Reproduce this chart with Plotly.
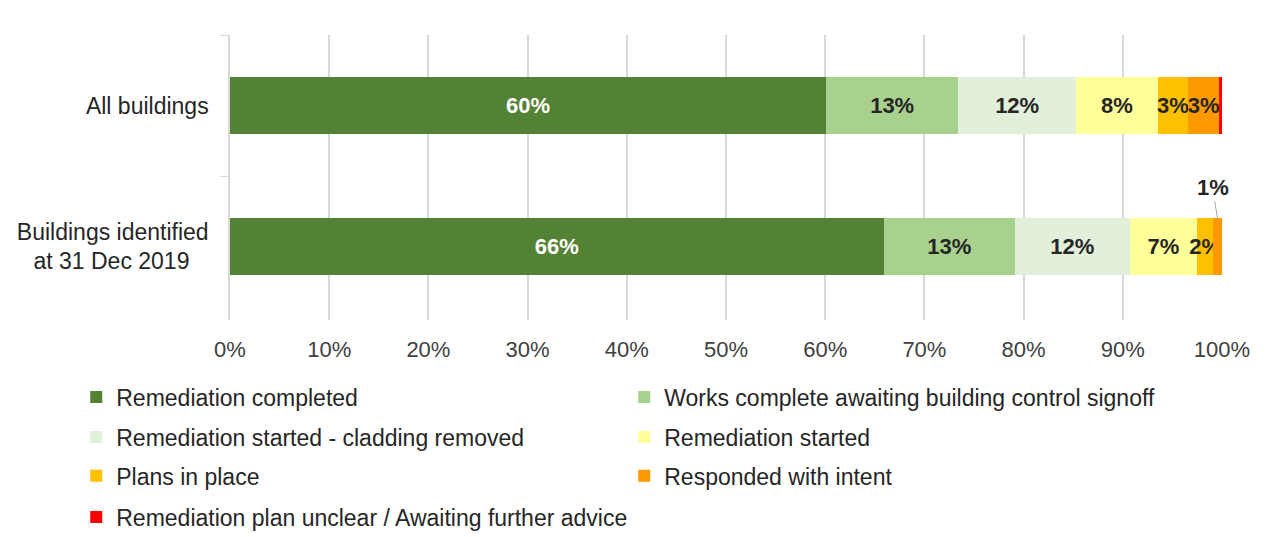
import plotly.graph_objects as go

# categories (top to bottom) and share of buildings per status, in %
CATEGORIES = ["All buildings", "Buildings identified<br>at 31 Dec 2019\u00a0\u00a0\u00a0"]

STATUSES = [
    "Remediation completed",
    "Works complete awaiting building control signoff",
    "Remediation started - cladding removed",
    "Remediation started",
    "Plans in place",
    "Responded with intent",
    "Remediation plan unclear / Awaiting further advice",
]

completed = [60.1, 65.9]
awaiting_signoff = [13.3, 13.2]
cladding_removed = [11.9, 11.6]
started = [8.2, 6.8]
plans_in_place = [3.1, 1.6]
responded = [3.1, 0.9]
unclear = [0.3, 0.0]

SERIES = [completed, awaiting_signoff, cladding_removed, started,
          plans_in_place, responded, unclear]

COLORS = ['#548235', '#A9D18E', '#E2EFDA', '#FFFF99', '#FFC000', '#FF9900', '#FF0000']
TEXT_COLORS = ['#FFFFFF'] + ['#262626'] * 6

# two legend entries per row, one plotly legend per row
LEGEND_OF = ['legend', 'legend', 'legend2', 'legend2', 'legend3', 'legend3', 'legend4']

FONT = "Liberation Sans, Arial, sans-serif"
LABEL_SIZE = 22

fig = go.Figure()

for name, vals, color, tcolor, leg in zip(STATUSES, SERIES, COLORS, TEXT_COLORS, LEGEND_OF):
    labels = [f"{round(v)}%" if v >= 1.5 else "" for v in vals]
    fig.add_trace(go.Bar(
        y=CATEGORIES,
        x=vals,
        orientation='h',
        name=name,
        marker=dict(color=color, line=dict(width=0)),
        text=labels,
        textposition='inside',
        insidetextanchor='middle',
        textangle=0,
        textfont=dict(family=FONT, size=LABEL_SIZE, color=tcolor, weight='bold'),
        legend=leg,
        hovertemplate="%{y}<br>" + name + ": %{x:.1f}%<extra></extra>",
    ))

# small slice on the second bar labelled above, with a leader line
x_small = sum(s[1] for s in SERIES[:5]) + responded[1] / 2
fig.add_annotation(
    x=x_small, y=CATEGORIES[1],
    yshift=28,
    ax=-5, ay=-31,
    text=f"<b>{round(responded[1])}%</b>",
    showarrow=True, arrowhead=0, arrowwidth=1, arrowcolor='#A6A6A6',
    font=dict(family=FONT, size=LABEL_SIZE, color='#262626'),
)

legend_rows_y = [-0.270, -0.411, -0.547, -0.691]
legend_common = dict(
    orientation='h', xanchor='left', x=-0.155, yanchor='middle',
    entrywidthmode='pixels',
    font=dict(family=FONT, size=23, color='#262626'),
    itemwidth=30, bgcolor='rgba(0,0,0,0)', traceorder='normal',
)

fig.update_layout(
    barmode='stack',
    bargap=0.6,
    width=1267, height=537,
    # page body has an 8px margin, so the plot box is shifted by that much
    margin=dict(l=222, r=53, t=27, b=225, autoexpand=False),
    paper_bgcolor='white',
    plot_bgcolor='white',
    font=dict(family=FONT, size=22, color='#404040'),
    uniformtext=dict(mode='show', minsize=LABEL_SIZE),
    showlegend=True,
    legend=dict(y=legend_rows_y[0], entrywidth=503, **legend_common),
    legend2=dict(y=legend_rows_y[1], entrywidth=503, **legend_common),
    legend3=dict(y=legend_rows_y[2], entrywidth=503, **legend_common),
    legend4=dict(y=legend_rows_y[3], entrywidth=800, **legend_common),
    xaxis=dict(
        range=[0, 100],
        dtick=10,
        ticksuffix='%',
        showgrid=True,
        gridcolor='#D9D9D9',
        gridwidth=1.5,
        zeroline=False,
        showline=False,
        ticks='',
        ticklabelstandoff=14,
        tickfont=dict(family=FONT, size=22, color='#404040'),
        fixedrange=True,
    ),
    yaxis=dict(
        autorange='reversed',
        showline=True,
        linecolor='#D9D9D9',
        linewidth=1.5,
        ticks='outside',
        tickson='boundaries',
        ticklen=8,
        tickcolor='#D9D9D9',
        ticklabelstandoff=15,
        tickfont=dict(family=FONT, size=23, color='#262626'),
        fixedrange=True,
    ),
)

fig.write_html("out.html")
